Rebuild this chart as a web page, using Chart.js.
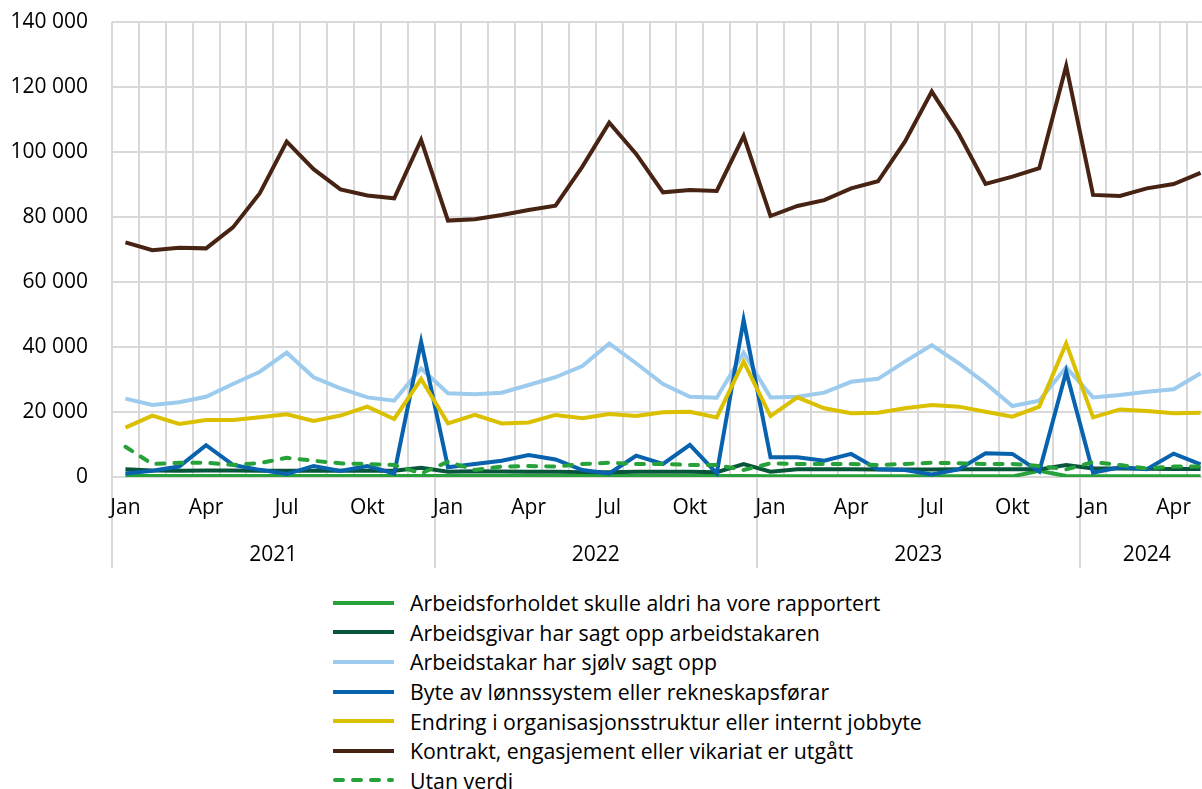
<!DOCTYPE html>
<html>
<head>
<meta charset="utf-8">
<script src="https://cdn.jsdelivr.net/npm/chart.js@4.4.1/dist/chart.umd.min.js"></script>
<style>
  html, body { margin: 0; padding: 0; background: #fff; overflow: hidden; }
  #wrap { position: relative; width: 1216px; height: 789px; font-family: 'Open Sans', sans-serif; }
  #chart { position: absolute; left: 0; top: 0; }
  #legend { position: absolute; left: 333px; top: 588px; }
  .item { display: flex; align-items: center; height: 29.6px; font-size: 21.3px; color: #000; white-space: nowrap; }
  .item svg { margin-right: 16px; }
</style>
</head>
<body>
<div id="wrap">
  <canvas id="chart" width="1216" height="580"></canvas>
  <div id="legend"></div>
</div>
<script>
const monthNames = ['Jan', 'Feb', 'Mar', 'Apr', 'Mai', 'Jun', 'Jul', 'Aug', 'Sep', 'Okt', 'Nov', 'Des'];
const years = ['2021', '2022', '2023', '2024'];
const monthsInYear = [12, 12, 12, 5];

const yMin = 0, yMax = 140000, yStep = 20000;

const aldri = [300, 300, 300, 300, 300, 300, 300, 300, 300, 300, 300, 300,
  300, 300, 300, 300, 300, 300, 300, 300, 300, 300, 300, 300,
  200, 200, 200, 200, 200, 200, 200, 200, 200, 200, 1900, 300,
  200, 200, 200, 200, 200];
const arbeidsgivar = [2350, 2000, 1900, 2000, 2000, 1900, 1900, 1950, 1950, 1950, 1950, 2850,
  1650, 1800, 1700, 1600, 1600, 1500, 1500, 1600, 1600, 1600, 1500, 4000,
  1650, 2350, 2350, 2350, 2300, 2300, 2300, 2350, 2350, 2350, 2350, 3700,
  2650, 2600, 2500, 2500, 2500];
const sjolv = [24100, 22150, 23000, 24700, 28600, 32400, 38250, 30700, 27300, 24500, 23500, 33400,
  25750, 25450, 25950, 28300, 30700, 34150, 41100, 35000, 28600, 24700, 24400, 38250,
  24500, 24700, 25950, 29300, 30200, 35500, 40600, 35000, 28800, 21850, 23500, 33750,
  24500, 25250, 26250, 27000, 31900];
const byte = [1100, 1950, 3200, 9800, 3700, 2200, 900, 3400, 1850, 3400, 1100, 41600,
  3000, 4000, 5000, 6750, 5400, 2150, 1100, 6550, 4000, 9850, 1100, 48300,
  6050, 6050, 5000, 7100, 2350, 2150, 800, 2350, 7300, 7100, 1650, 32400,
  1350, 3000, 2400, 7200, 3900];
const endring = [15200, 18900, 16300, 17550, 17550, 18350, 19300, 17250, 18900, 21650, 17850, 30150,
  16500, 19100, 16500, 16800, 19100, 18050, 19400, 18750, 19900, 20100, 18350, 35500,
  18750, 24500, 21150, 19600, 19800, 21150, 22150, 21650, 20100, 18550, 21650, 41100,
  18350, 20800, 20300, 19600, 19800];
const kontrakt = [72200, 69800, 70500, 70350, 76800, 87300, 103200, 94700, 88500, 86600, 85750, 103700,
  78900, 79300, 80600, 82150, 83500, 95500, 109000, 99400, 87600, 88300, 88000, 104900,
  80300, 83400, 85200, 88800, 91000, 103200, 118600, 105700, 90150, 92400, 95000, 126500,
  86800, 86450, 88800, 90150, 93600];
const utan = [9300, 4000, 4400, 4400, 3700, 4300, 5900, 5000, 4200, 4000, 3700, 1100,
  4700, 2150, 3200, 3400, 3200, 4000, 4400, 4000, 4000, 3700, 3700, 2150,
  4200, 4000, 4000, 4000, 3700, 4000, 4400, 4200, 4000, 4000, 3400, 2350,
  4600, 3700, 2650, 3200, 3200];

const seriesNames = [
  'Arbeidsforholdet skulle aldri ha vore rapportert',
  'Arbeidsgivar har sagt opp arbeidstakaren',
  'Arbeidstakar har sjølv sagt opp',
  'Byte av lønnssystem eller rekneskapsførar',
  'Endring i organisasjonsstruktur eller internt jobbyte',
  'Kontrakt, engasjement eller vikariat er utgått',
  'Utan verdi'
];
const seriesData = [aldri, arbeidsgivar, sjolv, byte, endring, kontrakt, utan];
const seriesColors = ['#27a23b', '#07553b', '#9dcbee', '#0862ad', '#dbc000', '#472313', '#27a23b'];
const seriesDash = [[], [], [], [], [], [], [8, 10]];

const gridColor = '#d9d9d9';

// category labels, year start indices and year centre positions
let labels = [], yearStarts = [], yearCenters = [];
let start = 0;
years.forEach((y, k) => {
  yearStarts.push(start);
  for (let m = 0; m < monthsInYear[k]; m++) labels.push(monthNames[m]);
  yearCenters.push(start + (monthsInYear[k] - 1) / 2);
  start += monthsInYear[k];
});

function fmt(v) {
  return String(v).replace(/\B(?=(\d{3})+(?!\d))/g, ' ');
}

const datasets = seriesNames.map((name, i) => ({
  label: name,
  data: seriesData[i],
  borderColor: seriesColors[i],
  backgroundColor: seriesColors[i],
  borderWidth: 4,
  borderDash: seriesDash[i],
  borderCapStyle: seriesDash[i].length ? 'round' : 'butt',
  pointRadius: 0,
  tension: 0,
  fill: false,
  order: seriesNames.length - i,
  xAxisID: 'x'
}));

const axisFont = { family: 'Open Sans', size: 21 };

const ctx = document.getElementById('chart').getContext('2d');
const chart = new Chart(ctx, {
  type: 'line',
  data: { labels: labels, datasets: datasets },
  options: {
    responsive: false,
    animation: false,
    devicePixelRatio: 1,
    layout: { padding: { top: 22, right: 2, left: 0, bottom: 0 } },
    plugins: { legend: { display: false }, tooltip: { enabled: false } },
    scales: {
      x: {
        type: 'category',
        offset: true,
        grid: {
          offset: true,
          color: gridColor,
          lineWidth: 2,
          drawTicks: true,
          tickLength: 91,
          tickWidth: 2,
          tickColor: c => yearStarts.includes(c.index) ? gridColor : 'rgba(0,0,0,0)'
        },
        border: { display: true, color: gridColor, width: 2 },
        ticks: {
          autoSkip: false,
          maxRotation: 0,
          padding: -73,
          color: '#000',
          font: axisFont,
          callback: function (v, i) { return i % 3 === 0 ? this.getLabelForValue(v) : ''; }
        },
        afterFit: s => { s.height = 43; }
      },
      x2: {
        type: 'linear',
        position: 'bottom',
        min: -0.5,
        max: labels.length - 0.5,
        grid: { display: false, drawTicks: false },
        border: { display: false },
        afterBuildTicks: s => { s.ticks = yearCenters.map(v => ({ value: v })); },
        ticks: {
          autoSkip: false,
          maxRotation: 0,
          padding: 22,
          color: '#000',
          font: axisFont,
          callback: v => years[yearCenters.indexOf(v)]
        },
        afterFit: s => { s.height = 60; }
      },
      y: {
        min: yMin,
        max: yMax,
        grid: { color: gridColor, lineWidth: 2, drawTicks: true, tickLength: 24, tickColor: 'rgba(0,0,0,0)' },
        border: { display: false },
        ticks: {
          stepSize: yStep,
          padding: 0,
          color: '#000',
          font: axisFont,
          callback: v => fmt(v)
        },
        afterFit: s => { s.width = 112; }
      }
    }
  }
});

// legend built from the datasets
const legend = document.getElementById('legend');
chart.data.datasets.forEach(ds => {
  const row = document.createElement('div');
  row.className = 'item';
  const dashed = ds.borderDash.length > 0;
  const dash = dashed ? `stroke-dasharray="${ds.borderDash.join(' ')}" stroke-linecap="round"` : '';
  const x1 = dashed ? 2 : 0;
  const x2 = dashed ? 59 : 61;
  row.innerHTML = `<svg width="61" height="8"><line x1="${x1}" y1="4" x2="${x2}" y2="4" stroke="${ds.borderColor}" stroke-width="4" ${dash}/></svg><span>${ds.label}</span>`;
  legend.appendChild(row);
});
</script>
</body>
</html>
